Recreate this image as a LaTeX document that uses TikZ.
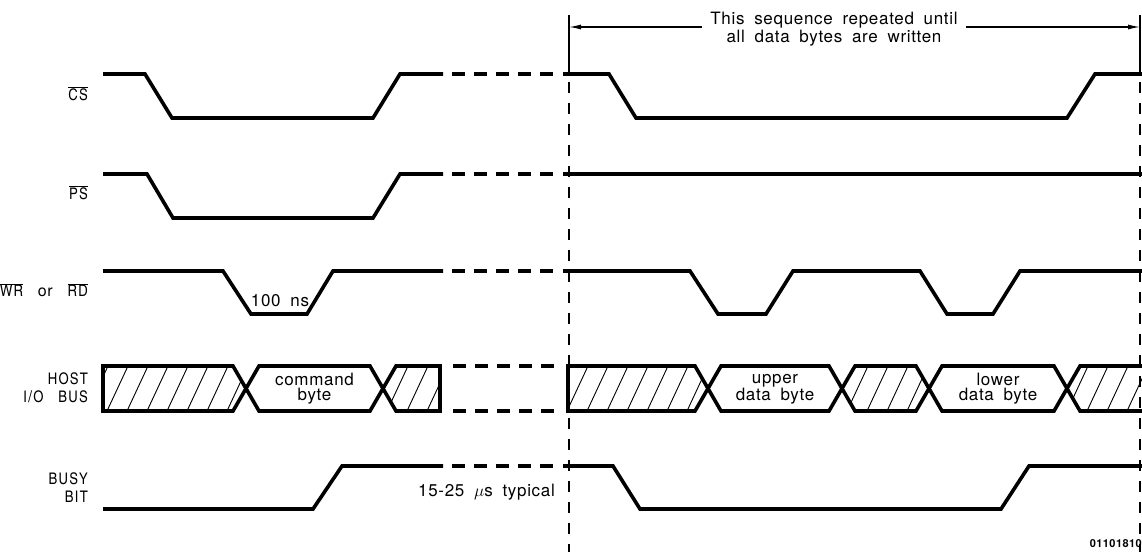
\documentclass[tikz,border=0pt]{standalone}
\usepackage{fontspec}
\setmainfont{TeX Gyre Heros}[LetterSpace=4, WordSpace=1.8]
\newfontfamily\cnfont{texgyreheroscn-regular.otf}[LetterSpace=8, WordSpace=3]
\usetikzlibrary{positioning}
\usetikzlibrary{arrows.meta}
\tikzset{>={Latex[length=12pt,width=5pt]}}
\tikzset{sig/.style={line width=3.6pt}}
\tikzset{gap/.style={line width=3.6pt, dash pattern=on 13pt off 9pt}}
\tikzset{hatch/.style={line width=0.9pt}}
\tikzset{marker/.style={line width=1.2pt}}
\tikzset{lbl/.style={inner sep=0pt, font=\cnfont\fontsize{16}{18}\selectfont, align=right}}
\tikzset{txt/.style={inner sep=0pt, font=\fontsize{17}{18}\selectfont, align=center}}
\tikzset{bustxt/.style={inner sep=0pt, font=\fontsize{17}{15}\selectfont, align=center}}
\newcommand{\ovl}[1]{$\overline{\mbox{#1}}$}

\begin{document}
\begin{tikzpicture}[x=1pt,y=-1pt]
\useasboundingbox (0,0) rectangle (1142,552);

\coordinate (cs) at (103,94);
\coordinate (ps) at (103,193);
\coordinate (wr) at (103,290);
\coordinate (bus) at (103,388);
\coordinate (busy) at (103,488);

\node[lbl, left=15pt of cs] (lcs) {\ovl{CS}};
\node[lbl, left=15pt of ps] (lps) {\ovl{PS}};
\node[lbl, left=15pt of wr] (lwr) {\ovl{WR} {\rmfamily or} \ovl{RD}};
\node[lbl, left=15pt of bus] (lbus) {HOST\\I/O BUS};
\node[lbl, left=15pt of busy] (lbusy) {BUSY\\BIT};

% repeated part
\coordinate (mL) at (569,27);
\coordinate (mR) at (1140,27);
\node[txt, inner xsep=8pt] (seq) at (834,29) {This sequence repeated until\\all data bytes are written};
\draw[marker] (569,15) -- (569,74);
\draw[marker] (1140,15) -- (1140,74);
\draw[marker, dash pattern=on 11pt off 10pt] (569,82) -- (569,552);
\draw[marker, dash pattern=on 11pt off 10pt] (1140,82) -- (1140,552);
\draw[marker,->] (seq.west |- mL) -- (mL);
\draw[marker,->] (seq.east |- mR) -- (mR);

\draw[sig] (103,74) -- (145,74) -- (172,118) -- (373,118) -- (400,74) -- (443,74);
\draw[gap] (452,74) -- (554,74);
\draw[sig] (563,74) -- (609,74) -- (636,118) -- (1067,118) -- (1095,74) -- (1142,74);

\draw[sig] (103,174) -- (147,174) -- (173,218) -- (373,218) -- (400,174) -- (443,174);
\draw[gap] (452,174) -- (554,174);
\draw[sig] (563,174) -- (1142,174);

\draw[sig] (103,271) -- (223,271) -- (251,314) -- (307,314) -- (333,271) -- (443,271);
\draw[gap] (452,271) -- (554,271);
\draw[sig] (563,271) -- (690,271) -- (718,314) -- (766,314) -- (793,271) -- (920,271)
  -- (947,314) -- (993,314) -- (1020,271) -- (1142,271);
\node[txt] (ns) at (280,301) {100 ns};

\begin{scope}
\clip (103,366) -- (233,366) -- (246,388.5) -- (233,411) -- (103,411) -- cycle
  (383,388.5) -- (396,366) -- (440,366) -- (440,411) -- (396,411) -- cycle
  (568,366) -- (695,366) -- (708,388.5) -- (695,411) -- (568,411) -- cycle
  (842,388.5) -- (855,366) -- (916,366) -- (929,388.5) -- (916,411) -- (855,411) -- cycle
  (1067,388.5) -- (1080,366) -- (1142,366) -- (1142,411) -- (1080,411) -- cycle;
\foreach \hx in {87,107,...,1147}
  \draw[hatch] (\hx,411) -- ++(21,-45);
\end{scope}
\draw[sig] (103,366) -- (233,366) -- (259,411) -- (370,411) -- (396,366) -- (440,366);
\draw[sig] (103,411) -- (233,411) -- (259,366) -- (370,366) -- (396,411) -- (440,411);
\draw[sig] (103,364.2) -- (103,412.8);
\draw[sig] (440,364.2) -- (440,412.8);
\draw[gap] (453,366) -- (555,366);
\draw[gap] (453,411) -- (555,411);
\draw[sig] (568,366) -- (695,366) -- (721,411) -- (829,411) -- (855,366) -- (916,366)
  -- (942,411) -- (1054,411) -- (1080,366) -- (1142,366);
\draw[sig] (568,411) -- (695,411) -- (721,366) -- (829,366) -- (855,411) -- (916,411)
  -- (942,366) -- (1054,366) -- (1080,411) -- (1142,411);
\draw[sig] (568,364.2) -- (568,412.8);
\node[bustxt] (cmd) at (314.5,389) {command\\byte};
\node[bustxt] (upper) at (775,389) {upper\\data byte};
\node[bustxt] (lower) at (998,389) {lower\\data byte};

\draw[sig] (103,509) -- (313,509) -- (342,466) -- (443,466);
\draw[gap] (452,466) -- (554,466);
\draw[sig] (563,466) -- (613,466) -- (640,509) -- (1001,509) -- (1029,466) -- (1142,466);
\node[txt, anchor=east] (typ) at (555,492) {15-25 $\mu$s typical};

\node[inner sep=0pt, anchor=east, font=\bfseries\fontsize{11}{11}\selectfont] (fig) at (1142,544) {01101810};
\end{tikzpicture}
\end{document}
